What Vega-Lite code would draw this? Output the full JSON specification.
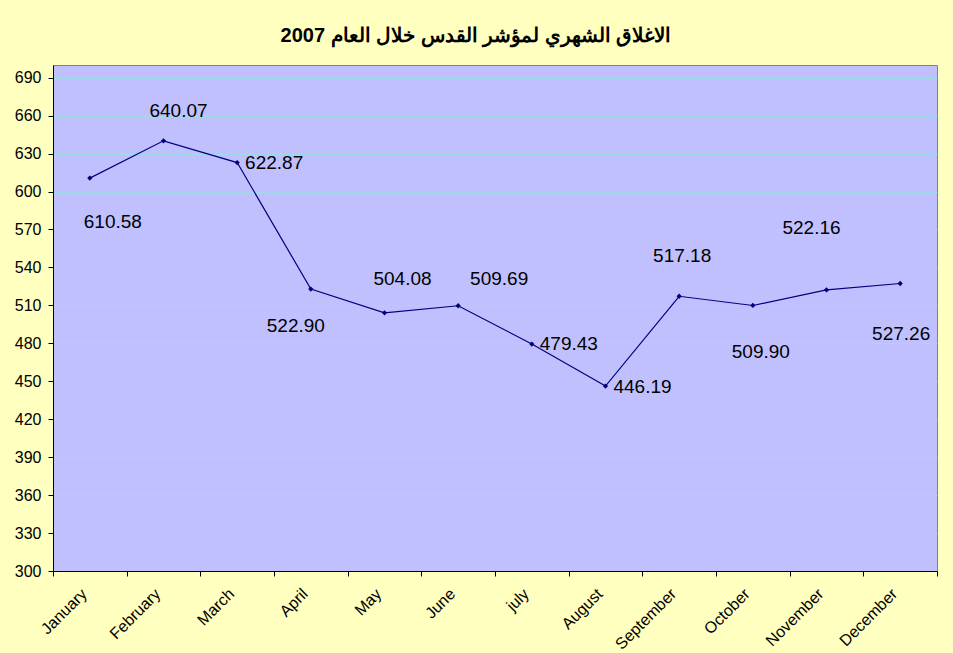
{
  "$schema": "https://vega.github.io/schema/vega-lite/v6.json",
  "width": 884,
  "height": 506,
  "autosize": {"type": "none"},
  "padding": {"left": 53, "top": 65, "right": 16, "bottom": 82},
  "background": "#FFFFC0",
  "title": {
    "text": "الاغلاق الشهري لمؤشر القدس خلال العام 2007",
    "font": "Liberation Sans",
    "fontSize": 20,
    "fontWeight": "bold",
    "color": "#000000",
    "anchor": "middle",
    "dx": -19,
    "offset": 19
  },
  "config": {
    "view": {"fill": "#C0C0FF", "stroke": "#808080", "strokeWidth": 1},
    "axis": {"labelFontSize": 16, "labelFont": "Liberation Sans", "labelColor": "#000000"},
    "text": {"font": "Liberation Sans", "fontSize": 19, "color": "#000000", "align": "center", "baseline": "middle"}
  },
  "data": {
    "values": [
      {"month": "January", "value": 610.58},
      {"month": "February", "value": 640.07},
      {"month": "March", "value": 622.87},
      {"month": "April", "value": 522.90},
      {"month": "May", "value": 504.08},
      {"month": "June", "value": 509.69},
      {"month": "july", "value": 479.43},
      {"month": "August", "value": 446.19},
      {"month": "September", "value": 517.18},
      {"month": "October", "value": 509.90},
      {"month": "November", "value": 522.16},
      {"month": "December", "value": 527.26}
    ]
  },
  "encoding": {
    "x": {
      "field": "month",
      "type": "nominal",
      "sort": null,
      "title": null,
      "scale": {"paddingInner": 0, "paddingOuter": 0},
      "axis": {
        "labelFont": "Liberation Sans",
        "labelFontSize": 16,
        "labelColor": "#000000",
        "domainColor": "#000000",
        "tickColor": "#000000",
        "tickSize": 5,
        "labelAngle": -45,
        "labelAlign": "right",
        "labelBaseline": "middle",
        "labelPadding": 15,
        "labelOffset": -6,
        "tickBand": "extent",
        "grid": false
      }
    },
    "y": {
      "field": "value",
      "type": "quantitative",
      "title": null,
      "scale": {"domain": [300, 700], "nice": false, "zero": false},
      "axis": {
        "labelFont": "Liberation Sans",
        "labelFontSize": 16,
        "labelColor": "#000000",
        "domainColor": "#000000",
        "tickColor": "#000000",
        "tickSize": 5,
        "values": [300, 330, 360, 390, 420, 450, 480, 510, 540, 570, 600, 630, 660, 690],
        "grid": true,
        "gridColor": "#9CDCE8",
        "gridWidth": 1,
        "labelPadding": 7
      }
    }
  },
  "layer": [
    {"mark": {"type": "line", "color": "#000080", "strokeWidth": 1.2}},
    {"mark": {"type": "point", "shape": "diamond", "filled": true, "color": "#000080", "size": 28, "opacity": 1}},
    {"transform": [{"filter": "datum.month == 'January'"}], "mark": {"type": "text", "dx": 23, "dy": 44}, "encoding": {"text": {"field": "value", "format": ".2f"}}},
    {"transform": [{"filter": "datum.month == 'February'"}], "mark": {"type": "text", "dx": 15, "dy": -30}, "encoding": {"text": {"field": "value", "format": ".2f"}}},
    {"transform": [{"filter": "datum.month == 'March'"}], "mark": {"type": "text", "dx": 37, "dy": 0}, "encoding": {"text": {"field": "value", "format": ".2f"}}},
    {"transform": [{"filter": "datum.month == 'April'"}], "mark": {"type": "text", "dx": -15, "dy": 37}, "encoding": {"text": {"field": "value", "format": ".2f"}}},
    {"transform": [{"filter": "datum.month == 'May'"}], "mark": {"type": "text", "dx": 18, "dy": -34}, "encoding": {"text": {"field": "value", "format": ".2f"}}},
    {"transform": [{"filter": "datum.month == 'June'"}], "mark": {"type": "text", "dx": 41, "dy": -27}, "encoding": {"text": {"field": "value", "format": ".2f"}}},
    {"transform": [{"filter": "datum.month == 'july'"}], "mark": {"type": "text", "dx": 37, "dy": 0}, "encoding": {"text": {"field": "value", "format": ".2f"}}},
    {"transform": [{"filter": "datum.month == 'August'"}], "mark": {"type": "text", "dx": 37, "dy": 1}, "encoding": {"text": {"field": "value", "format": ".2f"}}},
    {"transform": [{"filter": "datum.month == 'September'"}], "mark": {"type": "text", "dx": 3, "dy": -40}, "encoding": {"text": {"field": "value", "format": ".2f"}}},
    {"transform": [{"filter": "datum.month == 'October'"}], "mark": {"type": "text", "dx": 8, "dy": 47}, "encoding": {"text": {"field": "value", "format": ".2f"}}},
    {"transform": [{"filter": "datum.month == 'November'"}], "mark": {"type": "text", "dx": -15, "dy": -62}, "encoding": {"text": {"field": "value", "format": ".2f"}}},
    {"transform": [{"filter": "datum.month == 'December'"}], "mark": {"type": "text", "dx": 1, "dy": 50}, "encoding": {"text": {"field": "value", "format": ".2f"}}}
  ]
}
